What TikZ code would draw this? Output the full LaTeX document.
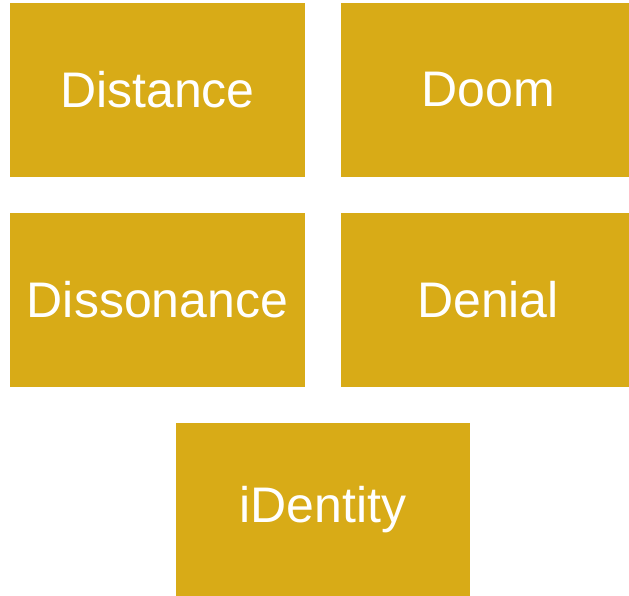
\documentclass[tikz,border=0pt]{standalone}
\usepackage{fontspec}
\setmainfont{Liberation Sans}
\definecolor{gold}{HTML}{D8AB17}
\begin{document}
\begin{tikzpicture}[x=1pt,y=-1pt,
  tile/.style={fill=gold,draw=none,text=white,font=\fontsize{50}{60}\selectfont,inner sep=0pt}]
\useasboundingbox (0,0) rectangle (629,596);
\fill[gold] (10,3) rectangle (305,177);
\node[tile] (a) at (157.5,90) {Distance};
\fill[gold] (341,3) rectangle (629,177);
\node[tile] (b) at (488,90) {Doom};
\fill[gold] (10,213) rectangle (305,387);
\node[tile] (c) at (157.5,300) {Dissonance};
\fill[gold] (341,213) rectangle (629,387);
\node[tile] (d) at (488,300) {Denial};
\fill[gold] (176,423) rectangle (470,596);
\node[tile] (e) at (323,510) {iDentity};
\end{tikzpicture}
\end{document}
